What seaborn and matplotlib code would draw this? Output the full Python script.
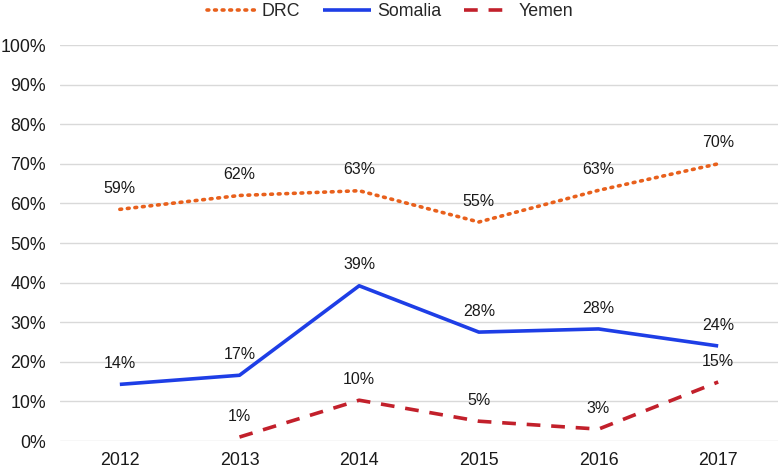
import matplotlib
matplotlib.use("Agg")
import matplotlib.pyplot as plt
import seaborn as sns
import pandas as pd
import numpy as np

years = ["2012", "2013", "2014", "2015", "2016", "2017"]
drc = [58.5, 62.0, 63.2, 55.3, 63.3, 70.0]
somalia = [14.3, 16.6, 39.2, 27.5, 28.3, 24.0]
yemen = [np.nan, 1.0, 10.3, 5.0, 3.0, 14.9]
drc_labels = ["59%", "62%", "63%", "55%", "63%", "70%"]
somalia_labels = ["14%", "17%", "39%", "28%", "28%", "24%"]
yemen_labels = [None, "1%", "10%", "5%", "3%", "15%"]

sns.set_theme(style="whitegrid")
plt.rcParams['font.family'] = ['Liberation Sans', 'DejaVu Sans']

fig = plt.figure(figsize=(7.8, 4.75), dpi=100)
ax = fig.add_axes([60 / 780, 34 / 475, 718 / 780, 396 / 475])

series = [
    ("DRC", drc, drc_labels, "#E8601C", (0, (0.5, 1.6)), "round"),
    ("Somalia", somalia, somalia_labels, "#1E3EE6", "-", "butt"),
    ("Yemen", yemen, yemen_labels, "#C2202B", (0, (3.8, 3.0)), "butt"),
]

x = np.arange(len(years))
for name, vals, labels, color, ls, cap in series:
    df = pd.DataFrame({"x": x, "y": vals}).dropna()
    sns.lineplot(data=df, x="x", y="y", ax=ax, color=color, linewidth=2.6,
                 linestyle=ls, label=name, solid_capstyle=cap,
                 dash_capstyle=cap)
    for xi, v, lab in zip(x, vals, labels):
        if lab is None:
            continue
        ax.annotate(lab, (xi, v), textcoords="offset points", xytext=(0, 15),
                    ha="center", va="center", fontsize=11.5, color="#1a1a1a")

ax.set_xlim(-0.5, len(years) - 0.5)
ax.set_ylim(0, 100)
ax.set_xticks(x)
ax.set_xticklabels(years)
ax.set_yticks(range(0, 101, 10))
ax.set_yticklabels([f"{v}%" for v in range(0, 101, 10)])
ax.tick_params(axis="both", labelsize=12.8, colors="#1a1a1a", length=0)
ax.tick_params(axis="x", pad=8)
ax.tick_params(axis="y", pad=10)
ax.set_xlabel("")
ax.set_ylabel("")
ax.grid(axis="y", color="#d9d9d9", linewidth=1)
ax.grid(axis="x", visible=False)
for s in ax.spines.values():
    s.set_visible(False)

ax.legend(loc="center", bbox_to_anchor=(0.5, 1 - 12 / 475),
          bbox_transform=fig.transFigure, ncol=3, frameon=False,
          fontsize=12.8, handlelength=2.7, handletextpad=0.35,
          columnspacing=1.3, borderaxespad=0)

fig.savefig("out.png", dpi=100)
